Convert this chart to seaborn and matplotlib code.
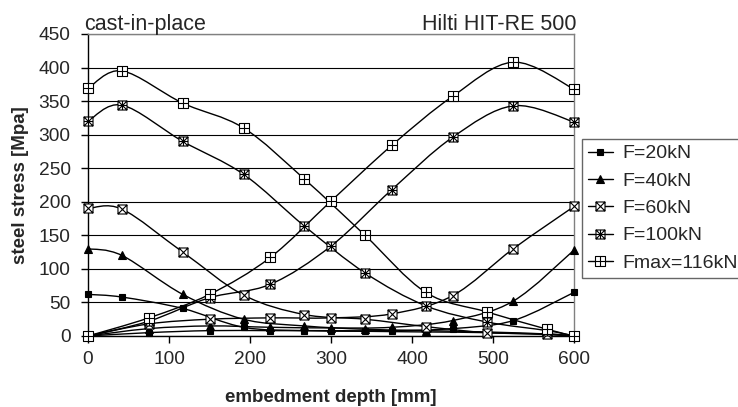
import matplotlib
matplotlib.use("Agg")
import matplotlib.pyplot as plt
from matplotlib.path import Path
from matplotlib.patches import PathPatch
from matplotlib.lines import Line2D
import numpy as np
import pandas as pd
import seaborn as sns

# Data
cast_depth = [0, 42, 117, 192, 267, 342, 417, 492, 567, 600]
hilti_depth = [0, 75, 150, 225, 300, 375, 450, 525, 600]

cast_f20 = [62, 58, 41, 13, 8, 7, 6, 5, 2, 0]
cast_f40 = [130, 120, 62, 25, 15, 10, 8, 6, 3, 0]
cast_f60 = [190, 189, 125, 61, 32, 25, 14, 5, 3, 0]
cast_f100 = [320, 344, 290, 241, 164, 94, 45, 21, 8, 0]
cast_fmax = [369, 395, 347, 310, 234, 150, 65, 36, 10, 0]

hilti_f20 = [0, 5, 8, 8, 8, 8, 11, 23, 65]
hilti_f40 = [0, 11, 15, 13, 12, 13, 23, 52, 128]
hilti_f60 = [0, 18, 25, 27, 27, 33, 60, 130, 193]
hilti_f100 = [0, 22, 57, 77, 134, 218, 296, 343, 319]
hilti_fmax = [0, 27, 62, 117, 201, 284, 357, 408, 368]

labels = ["F=20kN", "F=40kN", "F=60kN", "F=100kN", "Fmax=116kN"]
cast_series = [cast_f20, cast_f40, cast_f60, cast_f100, cast_fmax]
hilti_series = [hilti_f20, hilti_f40, hilti_f60, hilti_f100, hilti_fmax]


# custom box markers like the excel ones
def box_marker(inner):
    verts = [(-1, -1), (1, -1), (1, 1), (-1, 1), (-1, -1)]
    codes = [Path.MOVETO, Path.LINETO, Path.LINETO, Path.LINETO, Path.CLOSEPOLY]
    if "x" in inner:
        verts += [(-1, -1), (1, 1), (-1, 1), (1, -1)]
        codes += [Path.MOVETO, Path.LINETO, Path.MOVETO, Path.LINETO]
    if "+" in inner:
        verts += [(0, -1), (0, 1), (-1, 0), (1, 0)]
        codes += [Path.MOVETO, Path.LINETO, Path.MOVETO, Path.LINETO]
    return Path(verts, codes)


styles = [
    dict(marker="s", markersize=4.3, markerfacecolor="black"),
    dict(marker="^", markersize=5.5, markerfacecolor="black"),
    dict(marker=box_marker("x"), markersize=6.5, markerfacecolor="white"),
    dict(marker=box_marker("x+"), markersize=6.5, markerfacecolor="white"),
    dict(marker=box_marker("+"), markersize=6.5, markerfacecolor="white"),
]


def smooth_path(x, y):
    # excel style smoothed line: cubic bezier through the points
    pts = np.column_stack([x, y]).astype(float)
    n = len(pts)
    verts = [pts[0]]
    codes = [Path.MOVETO]
    for i in range(n - 1):
        p0 = pts[max(i - 1, 0)]
        p1 = pts[i]
        p2 = pts[i + 1]
        p3 = pts[min(i + 2, n - 1)]
        c1 = p1 + (p2 - p0) / 6.0
        c2 = p2 - (p3 - p1) / 6.0
        verts += [c1, c2, p2]
        codes += [Path.CURVE4, Path.CURVE4, Path.CURVE4]
    return Path(verts, codes)


sns.set_style("white")
plt.rcParams["font.family"] = ["Liberation Sans", "DejaVu Sans"]

fig = plt.figure(figsize=(7.38, 4.07), dpi=100)
ax = fig.add_axes([88 / 738, 1 - 336 / 407, (574 - 88) / 738, (336 - 34) / 407])

for depth, group in [(cast_depth, cast_series), (hilti_depth, hilti_series)]:
    for vals, st in zip(group, styles):
        df = pd.DataFrame({"depth": depth, "stress": vals})
        ax.add_patch(PathPatch(smooth_path(depth, vals), fill=False,
                               edgecolor="black", lw=1.0, zorder=2))
        sns.lineplot(data=df, x="depth", y="stress", ax=ax, estimator=None,
                     linestyle="none", color="black", markeredgecolor="black",
                     markeredgewidth=0.8, clip_on=False, zorder=3, **st)

ax.set_xlim(0, 600)
ax.set_ylim(0, 450)
ax.set_xticks(range(0, 601, 100))
ax.set_yticks(range(0, 451, 50))
ax.grid(axis="y", color="black", lw=0.8)
ax.grid(axis="x", visible=False)
for s in ["left", "bottom"]:
    ax.spines[s].set_color("black")
    ax.spines[s].set_linewidth(1.0)
for s in ["top", "right"]:
    ax.spines[s].set_color("#808080")
    ax.spines[s].set_linewidth(1.0)
ax.tick_params(axis="both", direction="out", length=5, width=1, color="black",
               labelsize=13.8, left=True, bottom=True)
ax.tick_params(axis="x", pad=6)
ax.tick_params(axis="y", pad=7.5)
ax.set_xlabel("embedment depth [mm]", fontsize=13.5, fontweight="bold", labelpad=15)
ax.set_ylabel("steel stress [Mpa]", fontsize=13.5, fontweight="bold", labelpad=7)

fig.text(84 / 738, 1 - 30 / 407, "cast-in-place", fontsize=15.5, ha="left", va="baseline")
fig.text(577 / 738, 1 - 30 / 407, "Hilti HIT-RE 500", fontsize=15.5, ha="right", va="baseline")

handles = [Line2D([], [], color="black", lw=1, markeredgecolor="black",
                  markeredgewidth=0.8, **st) for st in styles]
leg = fig.legend(handles, labels, loc="upper left",
                 bbox_to_anchor=(582 / 738, 1 - 139 / 407), bbox_transform=fig.transFigure,
                 borderaxespad=0, fontsize=14,
                 frameon=True, fancybox=False, handlelength=1.3,
                 handletextpad=0.5, labelspacing=0.5, borderpad=0.3)
leg.get_frame().set_edgecolor("#404040")
leg.get_frame().set_linewidth(1.0)

fig.savefig("out.png", dpi=100)
